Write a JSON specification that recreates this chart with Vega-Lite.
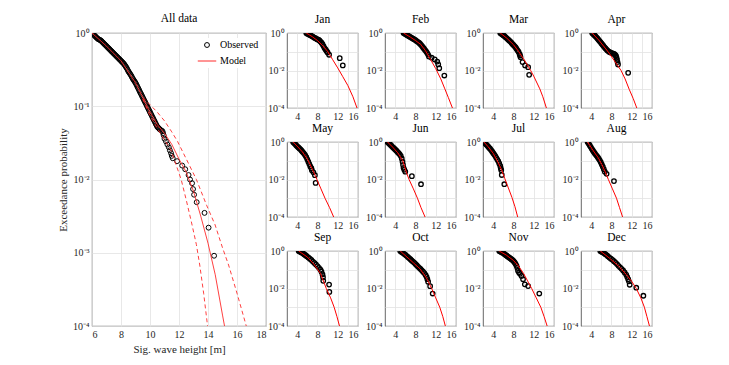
{
"$schema":"https://vega.github.io/schema/vega-lite/v6.json",
"padding":{"left":57,"top":12,"right":2,"bottom":2},
"spacing":0,
"resolve":{"legend":{"color":"independent","shape":"independent","size":"independent"}},
"config":{
 "font":"Liberation Serif",
 "view":{"stroke":"#404040","strokeWidth":0.8},
 "axis":{"grid":true,"gridColor":"#e2e2e2","gridWidth":0.8,"domain":false,"ticks":false,"labelFontSize":10,"labelColor":"#262626","titleFontSize":11,"titleFontWeight":"normal","titleColor":"#262626","labelPadding":3,"labelFont":"Liberation Serif","titleFont":"Liberation Serif"},
 "title":{"fontSize":11.5,"fontWeight":"normal","font":"Liberation Serif","color":"#000"},
 "legend":{"labelFont":"Liberation Serif","labelFontSize":10,"labelColor":"#000"}
},
"hconcat":[
{
 "width":174,"height":293,
 "title":{"text":"All data","offset":4},
 "data":{"values":[
{"k":"o","s":"Observed","h":6.0,"p":1},{"k":"o","s":"Observed","h":6.1,"p":0.955},{"k":"o","s":"Observed","h":6.2,"p":0.912},{"k":"o","s":"Observed","h":6.3,"p":0.871},{"k":"o","s":"Observed","h":6.4,"p":0.832},{"k":"o","s":"Observed","h":6.5,"p":0.813},{"k":"o","s":"Observed","h":6.6,"p":0.794},{"k":"o","s":"Observed","h":6.7,"p":0.759},{"k":"o","s":"Observed","h":6.8,"p":0.724},{"k":"o","s":"Observed","h":6.9,"p":0.692},{"k":"o","s":"Observed","h":7.0,"p":0.661},{"k":"o","s":"Observed","h":7.1,"p":0.631},{"k":"o","s":"Observed","h":7.2,"p":0.603},{"k":"o","s":"Observed","h":7.3,"p":0.575},{"k":"o","s":"Observed","h":7.4,"p":0.55},{"k":"o","s":"Observed","h":7.5,"p":0.525},{"k":"o","s":"Observed","h":7.6,"p":0.501},{"k":"o","s":"Observed","h":7.7,"p":0.479},{"k":"o","s":"Observed","h":7.8,"p":0.457},{"k":"o","s":"Observed","h":7.9,"p":0.437},{"k":"o","s":"Observed","h":8.0,"p":0.417},{"k":"o","s":"Observed","h":8.1,"p":0.398},{"k":"o","s":"Observed","h":8.2,"p":0.38},{"k":"o","s":"Observed","h":8.3,"p":0.355},{"k":"o","s":"Observed","h":8.4,"p":0.331},{"k":"o","s":"Observed","h":8.5,"p":0.302},{"k":"o","s":"Observed","h":8.6,"p":0.282},{"k":"o","s":"Observed","h":8.7,"p":0.263},{"k":"o","s":"Observed","h":8.8,"p":0.24},{"k":"o","s":"Observed","h":8.9,"p":0.224},{"k":"o","s":"Observed","h":9.0,"p":0.209},{"k":"o","s":"Observed","h":9.1,"p":0.191},{"k":"o","s":"Observed","h":9.2,"p":0.174},{"k":"o","s":"Observed","h":9.3,"p":0.158},{"k":"o","s":"Observed","h":9.4,"p":0.145},{"k":"o","s":"Observed","h":9.5,"p":0.132},{"k":"o","s":"Observed","h":9.6,"p":0.12},{"k":"o","s":"Observed","h":9.7,"p":0.11},{"k":"o","s":"Observed","h":9.8,"p":0.1},{"k":"o","s":"Observed","h":9.9,"p":0.0912},{"k":"o","s":"Observed","h":10.0,"p":0.0832},{"k":"o","s":"Observed","h":10.1,"p":0.0759},{"k":"o","s":"Observed","h":10.2,"p":0.0692},{"k":"o","s":"Observed","h":10.3,"p":0.0631},{"k":"o","s":"Observed","h":10.4,"p":0.0575},{"k":"o","s":"Observed","h":10.5,"p":0.0525},{"k":"o","s":"Observed","h":10.6,"p":0.0501},{"k":"o","s":"Observed","h":10.7,"p":0.0479},{"k":"o","s":"Observed","h":10.86,"p":0.0457},{"k":"o","s":"Observed","h":10.95,"p":0.0398},{"k":"o","s":"Observed","h":11.1,"p":0.0331},{"k":"o","s":"Observed","h":11.3,"p":0.0275},{"k":"o","s":"Observed","h":11.45,"p":0.0229},{"k":"o","s":"Observed","h":11.57,"p":0.0195},{"k":"o","s":"Observed","h":11.87,"p":0.0178},{"k":"o","s":"Observed","h":12.22,"p":0.0155},{"k":"o","s":"Observed","h":12.43,"p":0.0138},{"k":"o","s":"Observed","h":12.66,"p":0.0115},{"k":"o","s":"Observed","h":12.76,"p":0.01},{"k":"o","s":"Observed","h":12.9,"p":0.0089},{"k":"o","s":"Observed","h":12.97,"p":0.0074},{"k":"o","s":"Observed","h":13.04,"p":0.0062},{"k":"o","s":"Observed","h":13.22,"p":0.0049},{"k":"o","s":"Observed","h":13.76,"p":0.0035},{"k":"o","s":"Observed","h":14.04,"p":0.0022},{"k":"o","s":"Observed","h":14.42,"p":0.00091},
{"k":"o","s":"Observed","h":6.05,"p":0.977},{"k":"o","s":"Observed","h":6.15,"p":0.933},{"k":"o","s":"Observed","h":6.25,"p":0.891},{"k":"o","s":"Observed","h":6.35,"p":0.851},{"k":"o","s":"Observed","h":6.45,"p":0.822},{"k":"o","s":"Observed","h":6.55,"p":0.803},{"k":"o","s":"Observed","h":6.65,"p":0.776},{"k":"o","s":"Observed","h":6.75,"p":0.741},{"k":"o","s":"Observed","h":6.85,"p":0.708},{"k":"o","s":"Observed","h":6.95,"p":0.676},{"k":"o","s":"Observed","h":7.05,"p":0.646},{"k":"o","s":"Observed","h":7.15,"p":0.617},{"k":"o","s":"Observed","h":7.25,"p":0.589},{"k":"o","s":"Observed","h":7.35,"p":0.562},{"k":"o","s":"Observed","h":7.45,"p":0.537},{"k":"o","s":"Observed","h":7.55,"p":0.513},{"k":"o","s":"Observed","h":7.65,"p":0.49},{"k":"o","s":"Observed","h":7.75,"p":0.468},{"k":"o","s":"Observed","h":7.85,"p":0.447},{"k":"o","s":"Observed","h":7.95,"p":0.427},{"k":"o","s":"Observed","h":8.05,"p":0.407},{"k":"o","s":"Observed","h":8.15,"p":0.389},{"k":"o","s":"Observed","h":8.25,"p":0.367},{"k":"o","s":"Observed","h":8.35,"p":0.343},{"k":"o","s":"Observed","h":8.45,"p":0.316},{"k":"o","s":"Observed","h":8.55,"p":0.292},{"k":"o","s":"Observed","h":8.65,"p":0.272},{"k":"o","s":"Observed","h":8.75,"p":0.251},{"k":"o","s":"Observed","h":8.85,"p":0.232},{"k":"o","s":"Observed","h":8.95,"p":0.216},{"k":"o","s":"Observed","h":9.05,"p":0.2},{"k":"o","s":"Observed","h":9.15,"p":0.182},{"k":"o","s":"Observed","h":9.25,"p":0.166},{"k":"o","s":"Observed","h":9.35,"p":0.151},{"k":"o","s":"Observed","h":9.45,"p":0.138},{"k":"o","s":"Observed","h":9.55,"p":0.126},{"k":"o","s":"Observed","h":9.65,"p":0.115},{"k":"o","s":"Observed","h":9.75,"p":0.105},{"k":"o","s":"Observed","h":9.85,"p":0.0955},{"k":"o","s":"Observed","h":9.95,"p":0.0871},{"k":"o","s":"Observed","h":10.05,"p":0.0794},{"k":"o","s":"Observed","h":10.15,"p":0.0724},{"k":"o","s":"Observed","h":10.25,"p":0.0661},{"k":"o","s":"Observed","h":10.35,"p":0.0603},{"k":"o","s":"Observed","h":10.45,"p":0.055},{"k":"o","s":"Observed","h":10.55,"p":0.0513},{"k":"o","s":"Observed","h":10.65,"p":0.049},{"k":"o","s":"Observed","h":10.78,"p":0.0468},{"k":"o","s":"Observed","h":10.9,"p":0.043},{"k":"o","s":"Observed","h":11.0,"p":0.036},{"k":"o","s":"Observed","h":11.2,"p":0.03},{"k":"o","s":"Observed","h":11.37,"p":0.025},{"k":"o","s":"Observed","h":11.5,"p":0.021},
{"k":"mid","s":"Model","h":6,"p":1},{"k":"mid","s":"Model","h":7,"p":0.661},{"k":"mid","s":"Model","h":8,"p":0.417},{"k":"mid","s":"Model","h":9,"p":0.209},{"k":"mid","s":"Model","h":9.5,"p":0.132},{"k":"mid","s":"Model","h":10,"p":0.0832},{"k":"mid","s":"Model","h":10.5,"p":0.0562},{"k":"mid","s":"Model","h":11,"p":0.0427},{"k":"mid","s":"Model","h":11.5,"p":0.0302},{"k":"mid","s":"Model","h":12,"p":0.019},{"k":"mid","s":"Model","h":12.5,"p":0.0126},{"k":"mid","s":"Model","h":13,"p":0.0069},{"k":"mid","s":"Model","h":13.5,"p":0.00316},{"k":"mid","s":"Model","h":14,"p":0.00135},{"k":"mid","s":"Model","h":14.5,"p":0.0005},{"k":"mid","s":"Model","h":15,"p":0.000141},{"k":"mid","s":"Model","h":15.14,"p":0.0001},
{"k":"hi","s":"Model","h":9.5,"p":0.132},{"k":"hi","s":"Model","h":10,"p":0.105},{"k":"hi","s":"Model","h":10.5,"p":0.0832},{"k":"hi","s":"Model","h":11,"p":0.0631},{"k":"hi","s":"Model","h":11.5,"p":0.0447},{"k":"hi","s":"Model","h":11.9,"p":0.0331},{"k":"hi","s":"Model","h":12.5,"p":0.0191},{"k":"hi","s":"Model","h":13.2,"p":0.01},{"k":"hi","s":"Model","h":13.9,"p":0.00447},{"k":"hi","s":"Model","h":14.49,"p":0.0024},{"k":"hi","s":"Model","h":15,"p":0.00117},{"k":"hi","s":"Model","h":15.42,"p":0.00068},{"k":"hi","s":"Model","h":16,"p":0.00028},{"k":"hi","s":"Model","h":16.64,"p":0.0001},
{"k":"lo","s":"Model","h":9.5,"p":0.126},{"k":"lo","s":"Model","h":10,"p":0.0741},{"k":"lo","s":"Model","h":10.5,"p":0.0501},{"k":"lo","s":"Model","h":11,"p":0.0347},{"k":"lo","s":"Model","h":11.45,"p":0.0251},{"k":"lo","s":"Model","h":12.15,"p":0.01},{"k":"lo","s":"Model","h":12.5,"p":0.00525},{"k":"lo","s":"Model","h":12.85,"p":0.00266},{"k":"lo","s":"Model","h":13.2,"p":0.00129},{"k":"lo","s":"Model","h":13.43,"p":0.00068},{"k":"lo","s":"Model","h":13.7,"p":0.00028},{"k":"lo","s":"Model","h":13.97,"p":0.0001}
 ]},
 "encoding":{
  "x":{"field":"h","type":"quantitative","scale":{"domain":[6,18],"nice":false,"zero":false},"axis":{"title":"Sig. wave height [m]","values":[6,8,10,12,14,16,18],"titlePadding":4}},
  "y":{"field":"p","type":"quantitative","scale":{"type":"log","domain":[0.0001,1]},"axis":{"title":"Exceedance probability","values":[1,0.1,0.01,0.001,0.0001],"titlePadding":4,"labelExpr":"datum.value>0.5?'10⁰':datum.value>0.05?'10⁻¹':datum.value>0.005?'10⁻²':datum.value>0.0005?'10⁻³':'10⁻⁴'"}}
 },
 "layer":[
  {"transform":[{"filter":"datum.k=='o'"}],"mark":{"type":"point","filled":false,"strokeWidth":1,"opacity":1,"clip":true},
   "encoding":{
    "color":{"field":"s","type":"nominal","scale":{"domain":["Observed","Model"],"range":["black","#ff2a2a"]},"legend":{"title":null,"orient":"top-right","offset":5,"rowPadding":1,"symbolStrokeWidth":1,"labelOffset":3,"fillColor":"white","padding":2}},
    "shape":{"field":"s","type":"nominal","scale":{"domain":["Observed","Model"],"range":["circle","stroke"]},"legend":{"title":null,"orient":"top-right"}},
    "size":{"field":"s","type":"nominal","scale":{"domain":["Observed","Model"],"range":[24,340]},"legend":{"title":null,"orient":"top-right"}}
   }},
  {"transform":[{"filter":"datum.k=='lo'||datum.k=='hi'"}],"mark":{"type":"line","color":"#ff2a2a","strokeDash":[4,3],"strokeWidth":0.9,"clip":true},"encoding":{"detail":{"field":"k"}}},
  {"transform":[{"filter":"datum.k=='mid'"}],"mark":{"type":"line","strokeWidth":0.9,"clip":true},"encoding":{"color":{"field":"s","type":"nominal","scale":{"domain":["Observed","Model"],"range":["black","#ff2a2a"]},"legend":{"title":null,"orient":"top-right"}}}}
 ]
},
{
 "data":{"values":[
{"m":"Jan","k":"o","h":5.8,"p":1},{"m":"Jan","k":"o","h":6.0,"p":0.912},{"m":"Jan","k":"o","h":6.2,"p":0.871},{"m":"Jan","k":"o","h":6.4,"p":0.813},{"m":"Jan","k":"o","h":6.6,"p":0.759},{"m":"Jan","k":"o","h":6.8,"p":0.708},{"m":"Jan","k":"o","h":7.0,"p":0.661},{"m":"Jan","k":"o","h":7.2,"p":0.603},{"m":"Jan","k":"o","h":7.4,"p":0.562},{"m":"Jan","k":"o","h":7.6,"p":0.525},{"m":"Jan","k":"o","h":7.8,"p":0.49},{"m":"Jan","k":"o","h":8.0,"p":0.457},{"m":"Jan","k":"o","h":8.2,"p":0.437},{"m":"Jan","k":"o","h":8.4,"p":0.398},{"m":"Jan","k":"o","h":8.6,"p":0.347},{"m":"Jan","k":"o","h":8.8,"p":0.302},{"m":"Jan","k":"o","h":9.0,"p":0.251},{"m":"Jan","k":"o","h":9.2,"p":0.2},{"m":"Jan","k":"o","h":9.4,"p":0.158},{"m":"Jan","k":"o","h":9.6,"p":0.132},{"m":"Jan","k":"o","h":9.8,"p":0.11},{"m":"Jan","k":"o","h":10.0,"p":0.0912},{"m":"Jan","k":"o","h":10.3,"p":0.0692},{"m":"Jan","k":"o","h":12.4,"p":0.0457},{"m":"Jan","k":"o","h":13.0,"p":0.0186},
{"m":"Jan","k":"m","h":5.8,"p":1},{"m":"Jan","k":"m","h":7,"p":0.631},{"m":"Jan","k":"m","h":8,"p":0.398},{"m":"Jan","k":"m","h":9,"p":0.219},{"m":"Jan","k":"m","h":10,"p":0.105},{"m":"Jan","k":"m","h":11,"p":0.038},{"m":"Jan","k":"m","h":12,"p":0.0138},{"m":"Jan","k":"m","h":13,"p":0.00468},{"m":"Jan","k":"m","h":14,"p":0.00158},{"m":"Jan","k":"m","h":15,"p":0.000398},{"m":"Jan","k":"m","h":15.8,"p":0.0001},
{"m":"Feb","k":"o","h":5.65,"p":1},{"m":"Feb","k":"o","h":5.9,"p":0.912},{"m":"Feb","k":"o","h":6.1,"p":0.851},{"m":"Feb","k":"o","h":6.3,"p":0.794},{"m":"Feb","k":"o","h":6.5,"p":0.741},{"m":"Feb","k":"o","h":6.7,"p":0.676},{"m":"Feb","k":"o","h":6.95,"p":0.617},{"m":"Feb","k":"o","h":7.2,"p":0.562},{"m":"Feb","k":"o","h":7.45,"p":0.513},{"m":"Feb","k":"o","h":7.7,"p":0.468},{"m":"Feb","k":"o","h":7.95,"p":0.427},{"m":"Feb","k":"o","h":8.2,"p":0.38},{"m":"Feb","k":"o","h":8.45,"p":0.339},{"m":"Feb","k":"o","h":8.7,"p":0.302},{"m":"Feb","k":"o","h":8.9,"p":0.269},{"m":"Feb","k":"o","h":9.1,"p":0.234},{"m":"Feb","k":"o","h":9.3,"p":0.2},{"m":"Feb","k":"o","h":9.5,"p":0.17},{"m":"Feb","k":"o","h":9.7,"p":0.145},{"m":"Feb","k":"o","h":9.9,"p":0.123},{"m":"Feb","k":"o","h":10.1,"p":0.105},{"m":"Feb","k":"o","h":10.3,"p":0.0871},{"m":"Feb","k":"o","h":10.5,"p":0.0708},{"m":"Feb","k":"o","h":10.66,"p":0.055},{"m":"Feb","k":"o","h":11.2,"p":0.048},{"m":"Feb","k":"o","h":11.8,"p":0.039},{"m":"Feb","k":"o","h":12.3,"p":0.03},{"m":"Feb","k":"o","h":12.5,"p":0.021},{"m":"Feb","k":"o","h":12.7,"p":0.0133},{"m":"Feb","k":"o","h":13.7,"p":0.0054},
{"m":"Feb","k":"m","h":5.65,"p":1},{"m":"Feb","k":"m","h":7,"p":0.603},{"m":"Feb","k":"m","h":8,"p":0.398},{"m":"Feb","k":"m","h":9,"p":0.251},{"m":"Feb","k":"m","h":10,"p":0.112},{"m":"Feb","k":"m","h":11,"p":0.038},{"m":"Feb","k":"m","h":12,"p":0.0126},{"m":"Feb","k":"m","h":13,"p":0.00355},{"m":"Feb","k":"m","h":13.8,"p":0.00105},{"m":"Feb","k":"m","h":14.5,"p":0.000355},{"m":"Feb","k":"m","h":15.3,"p":0.0001},
{"m":"Mar","k":"o","h":5.4,"p":1},{"m":"Mar","k":"o","h":5.6,"p":0.912},{"m":"Mar","k":"o","h":5.8,"p":0.832},{"m":"Mar","k":"o","h":6.0,"p":0.759},{"m":"Mar","k":"o","h":6.2,"p":0.692},{"m":"Mar","k":"o","h":6.4,"p":0.617},{"m":"Mar","k":"o","h":6.6,"p":0.55},{"m":"Mar","k":"o","h":6.8,"p":0.49},{"m":"Mar","k":"o","h":7.0,"p":0.437},{"m":"Mar","k":"o","h":7.2,"p":0.389},{"m":"Mar","k":"o","h":7.4,"p":0.347},{"m":"Mar","k":"o","h":7.6,"p":0.302},{"m":"Mar","k":"o","h":7.8,"p":0.263},{"m":"Mar","k":"o","h":8.0,"p":0.229},{"m":"Mar","k":"o","h":8.2,"p":0.2},{"m":"Mar","k":"o","h":8.4,"p":0.174},{"m":"Mar","k":"o","h":8.6,"p":0.145},{"m":"Mar","k":"o","h":8.8,"p":0.12},{"m":"Mar","k":"o","h":9.0,"p":0.1},{"m":"Mar","k":"o","h":9.2,"p":0.0759},{"m":"Mar","k":"o","h":9.3,"p":0.0631},{"m":"Mar","k":"o","h":9.4,"p":0.0513},{"m":"Mar","k":"o","h":9.8,"p":0.028},{"m":"Mar","k":"o","h":10.3,"p":0.0186},{"m":"Mar","k":"o","h":10.9,"p":0.015},{"m":"Mar","k":"o","h":11.1,"p":0.0059},
{"m":"Mar","k":"m","h":5.4,"p":1},{"m":"Mar","k":"m","h":6.7,"p":0.525},{"m":"Mar","k":"m","h":8,"p":0.24},{"m":"Mar","k":"m","h":9,"p":0.105},{"m":"Mar","k":"m","h":10,"p":0.0417},{"m":"Mar","k":"m","h":11,"p":0.0151},{"m":"Mar","k":"m","h":11.4,"p":0.01},{"m":"Mar","k":"m","h":12,"p":0.00501},{"m":"Mar","k":"m","h":13.2,"p":0.00105},{"m":"Mar","k":"m","h":13.8,"p":0.000398},{"m":"Mar","k":"m","h":14.5,"p":0.0001},
{"m":"Apr","k":"o","h":4.2,"p":1},{"m":"Apr","k":"o","h":4.4,"p":0.891},{"m":"Apr","k":"o","h":4.6,"p":0.794},{"m":"Apr","k":"o","h":4.8,"p":0.692},{"m":"Apr","k":"o","h":5.0,"p":0.603},{"m":"Apr","k":"o","h":5.2,"p":0.525},{"m":"Apr","k":"o","h":5.4,"p":0.457},{"m":"Apr","k":"o","h":5.6,"p":0.389},{"m":"Apr","k":"o","h":5.8,"p":0.339},{"m":"Apr","k":"o","h":6.0,"p":0.288},{"m":"Apr","k":"o","h":6.2,"p":0.245},{"m":"Apr","k":"o","h":6.4,"p":0.209},{"m":"Apr","k":"o","h":6.6,"p":0.178},{"m":"Apr","k":"o","h":6.8,"p":0.155},{"m":"Apr","k":"o","h":7.0,"p":0.135},{"m":"Apr","k":"o","h":7.2,"p":0.117},{"m":"Apr","k":"o","h":7.5,"p":0.1},{"m":"Apr","k":"o","h":7.8,"p":0.0912},{"m":"Apr","k":"o","h":8.1,"p":0.0851},{"m":"Apr","k":"o","h":8.4,"p":0.0794},{"m":"Apr","k":"o","h":8.6,"p":0.0741},{"m":"Apr","k":"o","h":8.8,"p":0.0661},{"m":"Apr","k":"o","h":8.9,"p":0.0575},{"m":"Apr","k":"o","h":9.0,"p":0.0479},{"m":"Apr","k":"o","h":9.1,"p":0.038},{"m":"Apr","k":"o","h":9.2,"p":0.0282},{"m":"Apr","k":"o","h":9.3,"p":0.0209},{"m":"Apr","k":"o","h":11.3,"p":0.0075},
{"m":"Apr","k":"m","h":4.2,"p":1},{"m":"Apr","k":"m","h":5.5,"p":0.417},{"m":"Apr","k":"m","h":6.9,"p":0.141},{"m":"Apr","k":"m","h":7.5,"p":0.0871},{"m":"Apr","k":"m","h":8.5,"p":0.0355},{"m":"Apr","k":"m","h":9.9,"p":0.01},{"m":"Apr","k":"m","h":10.7,"p":0.00355},{"m":"Apr","k":"m","h":11.5,"p":0.001},{"m":"Apr","k":"m","h":12.3,"p":0.000316},{"m":"Apr","k":"m","h":13,"p":0.0001},
{"m":"May","k":"o","h":3.2,"p":1},{"m":"May","k":"o","h":3.4,"p":0.891},{"m":"May","k":"o","h":3.6,"p":0.776},{"m":"May","k":"o","h":3.8,"p":0.676},{"m":"May","k":"o","h":4.0,"p":0.589},{"m":"May","k":"o","h":4.2,"p":0.525},{"m":"May","k":"o","h":4.4,"p":0.468},{"m":"May","k":"o","h":4.6,"p":0.417},{"m":"May","k":"o","h":4.8,"p":0.363},{"m":"May","k":"o","h":5.0,"p":0.316},{"m":"May","k":"o","h":5.2,"p":0.275},{"m":"May","k":"o","h":5.4,"p":0.234},{"m":"May","k":"o","h":5.6,"p":0.195},{"m":"May","k":"o","h":5.8,"p":0.158},{"m":"May","k":"o","h":6.0,"p":0.12},{"m":"May","k":"o","h":6.2,"p":0.0891},{"m":"May","k":"o","h":6.4,"p":0.0661},{"m":"May","k":"o","h":6.6,"p":0.0501},{"m":"May","k":"o","h":6.8,"p":0.0398},{"m":"May","k":"o","h":6.9,"p":0.0316},{"m":"May","k":"o","h":7.2,"p":0.024},{"m":"May","k":"o","h":7.5,"p":0.017},{"m":"May","k":"o","h":7.65,"p":0.0066},
{"m":"May","k":"m","h":3.2,"p":1},{"m":"May","k":"m","h":4,"p":0.603},{"m":"May","k":"m","h":5,"p":0.302},{"m":"May","k":"m","h":6,"p":0.126},{"m":"May","k":"m","h":7,"p":0.0355},{"m":"May","k":"m","h":7.9,"p":0.01},{"m":"May","k":"m","h":8.7,"p":0.00316},{"m":"May","k":"m","h":9.5,"p":0.001},{"m":"May","k":"m","h":10.4,"p":0.000316},{"m":"May","k":"m","h":11.2,"p":0.0001},
{"m":"Jun","k":"o","h":2.5,"p":1},{"m":"Jun","k":"o","h":2.7,"p":0.891},{"m":"Jun","k":"o","h":2.9,"p":0.794},{"m":"Jun","k":"o","h":3.1,"p":0.692},{"m":"Jun","k":"o","h":3.3,"p":0.617},{"m":"Jun","k":"o","h":3.5,"p":0.537},{"m":"Jun","k":"o","h":3.7,"p":0.479},{"m":"Jun","k":"o","h":3.9,"p":0.427},{"m":"Jun","k":"o","h":4.1,"p":0.38},{"m":"Jun","k":"o","h":4.3,"p":0.331},{"m":"Jun","k":"o","h":4.5,"p":0.288},{"m":"Jun","k":"o","h":4.7,"p":0.251},{"m":"Jun","k":"o","h":4.9,"p":0.219},{"m":"Jun","k":"o","h":5.1,"p":0.182},{"m":"Jun","k":"o","h":5.3,"p":0.132},{"m":"Jun","k":"o","h":5.45,"p":0.0891},{"m":"Jun","k":"o","h":5.55,"p":0.0603},{"m":"Jun","k":"o","h":5.65,"p":0.0417},{"m":"Jun","k":"o","h":5.8,"p":0.0331},{"m":"Jun","k":"o","h":6.0,"p":0.0263},{"m":"Jun","k":"o","h":7.3,"p":0.015},{"m":"Jun","k":"o","h":9.1,"p":0.0056},
{"m":"Jun","k":"m","h":2.5,"p":1},{"m":"Jun","k":"m","h":3.5,"p":0.537},{"m":"Jun","k":"m","h":4.5,"p":0.269},{"m":"Jun","k":"m","h":5.5,"p":0.1},{"m":"Jun","k":"m","h":6.2,"p":0.0251},{"m":"Jun","k":"m","h":6.75,"p":0.01},{"m":"Jun","k":"m","h":7.6,"p":0.00316},{"m":"Jun","k":"m","h":8.4,"p":0.001},{"m":"Jun","k":"m","h":9.1,"p":0.000316},{"m":"Jun","k":"m","h":9.9,"p":0.0001},
{"m":"Jul","k":"o","h":2.2,"p":1},{"m":"Jul","k":"o","h":2.4,"p":0.871},{"m":"Jul","k":"o","h":2.6,"p":0.759},{"m":"Jul","k":"o","h":2.8,"p":0.661},{"m":"Jul","k":"o","h":3.0,"p":0.575},{"m":"Jul","k":"o","h":3.2,"p":0.501},{"m":"Jul","k":"o","h":3.4,"p":0.437},{"m":"Jul","k":"o","h":3.6,"p":0.372},{"m":"Jul","k":"o","h":3.8,"p":0.316},{"m":"Jul","k":"o","h":4.0,"p":0.263},{"m":"Jul","k":"o","h":4.2,"p":0.219},{"m":"Jul","k":"o","h":4.4,"p":0.182},{"m":"Jul","k":"o","h":4.6,"p":0.148},{"m":"Jul","k":"o","h":4.8,"p":0.12},{"m":"Jul","k":"o","h":5.0,"p":0.0955},{"m":"Jul","k":"o","h":5.2,"p":0.0724},{"m":"Jul","k":"o","h":5.4,"p":0.0525},{"m":"Jul","k":"o","h":5.5,"p":0.0398},{"m":"Jul","k":"o","h":5.6,"p":0.0316},{"m":"Jul","k":"o","h":5.7,"p":0.0174},{"m":"Jul","k":"o","h":6.2,"p":0.0056},
{"m":"Jul","k":"m","h":2.2,"p":1},{"m":"Jul","k":"m","h":3,"p":0.562},{"m":"Jul","k":"m","h":4,"p":0.251},{"m":"Jul","k":"m","h":5,"p":0.0794},{"m":"Jul","k":"m","h":5.6,"p":0.0355},{"m":"Jul","k":"m","h":6.3,"p":0.0112},{"m":"Jul","k":"m","h":7,"p":0.00355},{"m":"Jul","k":"m","h":7.7,"p":0.00112},{"m":"Jul","k":"m","h":8.3,"p":0.000355},{"m":"Jul","k":"m","h":8.84,"p":0.0001},
{"m":"Aug","k":"o","h":3.3,"p":1},{"m":"Aug","k":"o","h":3.5,"p":0.832},{"m":"Aug","k":"o","h":3.7,"p":0.676},{"m":"Aug","k":"o","h":3.9,"p":0.55},{"m":"Aug","k":"o","h":4.1,"p":0.447},{"m":"Aug","k":"o","h":4.3,"p":0.363},{"m":"Aug","k":"o","h":4.5,"p":0.302},{"m":"Aug","k":"o","h":4.7,"p":0.251},{"m":"Aug","k":"o","h":4.9,"p":0.214},{"m":"Aug","k":"o","h":5.1,"p":0.182},{"m":"Aug","k":"o","h":5.3,"p":0.155},{"m":"Aug","k":"o","h":5.5,"p":0.129},{"m":"Aug","k":"o","h":5.7,"p":0.105},{"m":"Aug","k":"o","h":5.9,"p":0.0832},{"m":"Aug","k":"o","h":6.1,"p":0.0631},{"m":"Aug","k":"o","h":6.3,"p":0.0479},{"m":"Aug","k":"o","h":6.5,"p":0.0355},{"m":"Aug","k":"o","h":6.7,"p":0.0263},{"m":"Aug","k":"o","h":7.05,"p":0.02},{"m":"Aug","k":"o","h":8.5,"p":0.0082},
{"m":"Aug","k":"m","h":3.3,"p":1},{"m":"Aug","k":"m","h":4.45,"p":0.331},{"m":"Aug","k":"m","h":5.4,"p":0.145},{"m":"Aug","k":"m","h":6.1,"p":0.0631},{"m":"Aug","k":"m","h":6.8,"p":0.0251},{"m":"Aug","k":"m","h":7.4,"p":0.01},{"m":"Aug","k":"m","h":8.2,"p":0.00316},{"m":"Aug","k":"m","h":9,"p":0.001},{"m":"Aug","k":"m","h":9.6,"p":0.000316},{"m":"Aug","k":"m","h":10.2,"p":0.0001},
{"m":"Sep","k":"o","h":4.3,"p":1},{"m":"Sep","k":"o","h":4.5,"p":0.933},{"m":"Sep","k":"o","h":4.7,"p":0.871},{"m":"Sep","k":"o","h":4.9,"p":0.813},{"m":"Sep","k":"o","h":5.1,"p":0.759},{"m":"Sep","k":"o","h":5.3,"p":0.692},{"m":"Sep","k":"o","h":5.5,"p":0.631},{"m":"Sep","k":"o","h":5.7,"p":0.575},{"m":"Sep","k":"o","h":5.9,"p":0.525},{"m":"Sep","k":"o","h":6.2,"p":0.457},{"m":"Sep","k":"o","h":6.5,"p":0.389},{"m":"Sep","k":"o","h":6.8,"p":0.331},{"m":"Sep","k":"o","h":7.1,"p":0.275},{"m":"Sep","k":"o","h":7.4,"p":0.229},{"m":"Sep","k":"o","h":7.7,"p":0.191},{"m":"Sep","k":"o","h":8.0,"p":0.158},{"m":"Sep","k":"o","h":8.3,"p":0.126},{"m":"Sep","k":"o","h":8.6,"p":0.1},{"m":"Sep","k":"o","h":8.8,"p":0.0794},{"m":"Sep","k":"o","h":9.0,"p":0.0562},{"m":"Sep","k":"o","h":9.1,"p":0.0398},{"m":"Sep","k":"o","h":9.15,"p":0.0257},{"m":"Sep","k":"o","h":10.3,"p":0.0162},{"m":"Sep","k":"o","h":10.35,"p":0.0066},
{"m":"Sep","k":"m","h":4.3,"p":1},{"m":"Sep","k":"m","h":6,"p":0.479},{"m":"Sep","k":"m","h":7.3,"p":0.2},{"m":"Sep","k":"m","h":8.6,"p":0.0631},{"m":"Sep","k":"m","h":9.75,"p":0.01},{"m":"Sep","k":"m","h":10.6,"p":0.00316},{"m":"Sep","k":"m","h":11.3,"p":0.001},{"m":"Sep","k":"m","h":11.85,"p":0.000316},{"m":"Sep","k":"m","h":12.35,"p":0.0001},
{"m":"Oct","k":"o","h":5.0,"p":1},{"m":"Oct","k":"o","h":5.25,"p":0.891},{"m":"Oct","k":"o","h":5.5,"p":0.794},{"m":"Oct","k":"o","h":5.75,"p":0.708},{"m":"Oct","k":"o","h":6.0,"p":0.631},{"m":"Oct","k":"o","h":6.25,"p":0.55},{"m":"Oct","k":"o","h":6.5,"p":0.479},{"m":"Oct","k":"o","h":6.75,"p":0.417},{"m":"Oct","k":"o","h":7.0,"p":0.363},{"m":"Oct","k":"o","h":7.25,"p":0.316},{"m":"Oct","k":"o","h":7.5,"p":0.275},{"m":"Oct","k":"o","h":7.75,"p":0.24},{"m":"Oct","k":"o","h":8.0,"p":0.204},{"m":"Oct","k":"o","h":8.25,"p":0.174},{"m":"Oct","k":"o","h":8.5,"p":0.148},{"m":"Oct","k":"o","h":8.75,"p":0.126},{"m":"Oct","k":"o","h":9.0,"p":0.11},{"m":"Oct","k":"o","h":9.25,"p":0.0933},{"m":"Oct","k":"o","h":9.5,"p":0.0794},{"m":"Oct","k":"o","h":9.75,"p":0.0661},{"m":"Oct","k":"o","h":10.0,"p":0.0525},{"m":"Oct","k":"o","h":10.2,"p":0.0422},{"m":"Oct","k":"o","h":10.35,"p":0.0316},{"m":"Oct","k":"o","h":10.5,"p":0.0229},{"m":"Oct","k":"o","h":10.9,"p":0.0133},{"m":"Oct","k":"o","h":11.4,"p":0.0054},
{"m":"Oct","k":"m","h":5,"p":1},{"m":"Oct","k":"m","h":6.9,"p":0.347},{"m":"Oct","k":"m","h":8.9,"p":0.112},{"m":"Oct","k":"m","h":10.2,"p":0.0355},{"m":"Oct","k":"m","h":11.2,"p":0.01},{"m":"Oct","k":"m","h":12,"p":0.00316},{"m":"Oct","k":"m","h":12.8,"p":0.001},{"m":"Oct","k":"m","h":13.4,"p":0.000316},{"m":"Oct","k":"m","h":13.9,"p":0.0001},
{"m":"Nov","k":"o","h":5.2,"p":1},{"m":"Nov","k":"o","h":5.4,"p":0.933},{"m":"Nov","k":"o","h":5.6,"p":0.871},{"m":"Nov","k":"o","h":5.8,"p":0.813},{"m":"Nov","k":"o","h":6.0,"p":0.759},{"m":"Nov","k":"o","h":6.2,"p":0.692},{"m":"Nov","k":"o","h":6.4,"p":0.631},{"m":"Nov","k":"o","h":6.6,"p":0.575},{"m":"Nov","k":"o","h":6.8,"p":0.525},{"m":"Nov","k":"o","h":7.0,"p":0.479},{"m":"Nov","k":"o","h":7.2,"p":0.437},{"m":"Nov","k":"o","h":7.4,"p":0.398},{"m":"Nov","k":"o","h":7.6,"p":0.363},{"m":"Nov","k":"o","h":7.8,"p":0.331},{"m":"Nov","k":"o","h":8.0,"p":0.295},{"m":"Nov","k":"o","h":8.2,"p":0.251},{"m":"Nov","k":"o","h":8.4,"p":0.209},{"m":"Nov","k":"o","h":8.6,"p":0.166},{"m":"Nov","k":"o","h":8.75,"p":0.126},{"m":"Nov","k":"o","h":8.9,"p":0.0891},{"m":"Nov","k":"o","h":9.1,"p":0.0708},{"m":"Nov","k":"o","h":9.3,"p":0.0603},{"m":"Nov","k":"o","h":9.6,"p":0.0468},{"m":"Nov","k":"o","h":9.9,"p":0.0316},{"m":"Nov","k":"o","h":10.25,"p":0.0166},{"m":"Nov","k":"o","h":10.9,"p":0.0135},{"m":"Nov","k":"o","h":13.1,"p":0.0054},
{"m":"Nov","k":"m","h":5.2,"p":1},{"m":"Nov","k":"m","h":6.6,"p":0.603},{"m":"Nov","k":"m","h":8,"p":0.316},{"m":"Nov","k":"m","h":9,"p":0.158},{"m":"Nov","k":"m","h":10,"p":0.0631},{"m":"Nov","k":"m","h":11,"p":0.02},{"m":"Nov","k":"m","h":11.6,"p":0.01},{"m":"Nov","k":"m","h":12.5,"p":0.00316},{"m":"Nov","k":"m","h":13.4,"p":0.001},{"m":"Nov","k":"m","h":14.05,"p":0.000316},{"m":"Nov","k":"m","h":14.65,"p":0.0001},
{"m":"Dec","k":"o","h":5.8,"p":1},{"m":"Dec","k":"o","h":6.05,"p":0.912},{"m":"Dec","k":"o","h":6.3,"p":0.832},{"m":"Dec","k":"o","h":6.55,"p":0.759},{"m":"Dec","k":"o","h":6.8,"p":0.676},{"m":"Dec","k":"o","h":7.05,"p":0.603},{"m":"Dec","k":"o","h":7.3,"p":0.525},{"m":"Dec","k":"o","h":7.6,"p":0.447},{"m":"Dec","k":"o","h":7.9,"p":0.389},{"m":"Dec","k":"o","h":8.2,"p":0.339},{"m":"Dec","k":"o","h":8.5,"p":0.288},{"m":"Dec","k":"o","h":8.8,"p":0.24},{"m":"Dec","k":"o","h":9.1,"p":0.2},{"m":"Dec","k":"o","h":9.4,"p":0.162},{"m":"Dec","k":"o","h":9.7,"p":0.135},{"m":"Dec","k":"o","h":10.0,"p":0.112},{"m":"Dec","k":"o","h":10.3,"p":0.0912},{"m":"Dec","k":"o","h":10.6,"p":0.0724},{"m":"Dec","k":"o","h":10.9,"p":0.055},{"m":"Dec","k":"o","h":11.1,"p":0.0417},{"m":"Dec","k":"o","h":11.3,"p":0.0316},{"m":"Dec","k":"o","h":11.45,"p":0.024},{"m":"Dec","k":"o","h":11.6,"p":0.0158},{"m":"Dec","k":"o","h":12.9,"p":0.011},{"m":"Dec","k":"o","h":14.3,"p":0.0041},
{"m":"Dec","k":"m","h":5.8,"p":1},{"m":"Dec","k":"m","h":7.6,"p":0.417},{"m":"Dec","k":"m","h":9.6,"p":0.141},{"m":"Dec","k":"m","h":10.9,"p":0.0562},{"m":"Dec","k":"m","h":12,"p":0.024},{"m":"Dec","k":"m","h":12.9,"p":0.01},{"m":"Dec","k":"m","h":13.8,"p":0.00316},{"m":"Dec","k":"m","h":14.5,"p":0.001},{"m":"Dec","k":"m","h":15,"p":0.000316},{"m":"Dec","k":"m","h":15.5,"p":0.0001}
 ]},
 "columns":4,
 "facet":{"field":"m","type":"nominal","sort":["Jan","Feb","Mar","Apr","May","Jun","Jul","Aug","Sep","Oct","Nov","Dec"],"header":{"title":null,"labelFontSize":11.5,"labelPadding":3,"labelFont":"Liberation Serif","labelColor":"#000"}},
 "spacing":{"row":0,"column":6},
 "spec":{
  "width":71,"height":75,
  "encoding":{
   "x":{"field":"h","type":"quantitative","scale":{"domain":[2,16],"nice":false,"zero":false},"axis":{"title":null,"values":[4,6,8,10,12,14,16],"labelExpr":"datum.value%4==0?datum.label:''"}},
   "y":{"field":"p","type":"quantitative","scale":{"type":"log","domain":[0.0001,1]},"axis":{"title":null,"values":[1,0.1,0.01,0.001,0.0001],"labelExpr":"datum.value>0.5?'10⁰':(datum.value>0.005&&datum.value<0.05)?'10⁻²':datum.value<0.0005?'10⁻⁴':''"}}
  },
  "layer":[
   {"transform":[{"filter":"datum.k=='o'"}],"mark":{"type":"point","filled":false,"color":"black","size":20,"strokeWidth":1.3,"opacity":1,"clip":true}},
   {"transform":[{"filter":"datum.k=='m'"}],"mark":{"type":"line","color":"#ff0000","strokeWidth":1,"clip":true}}
  ]
 },
 "resolve":{"axis":{"x":"independent","y":"independent"}}
}
]
}
